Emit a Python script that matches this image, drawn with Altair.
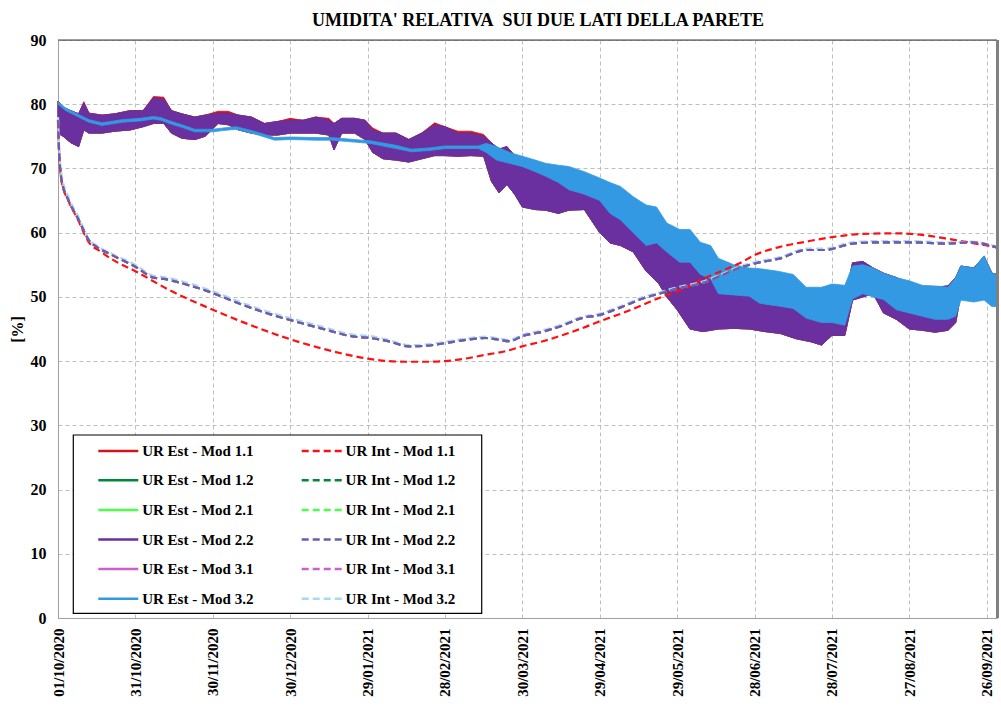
import altair as alt
import pandas as pd

SERIF = "Liberation Serif"
START = pd.Timestamp("2020-10-01", tz="UTC")

# ---- series names / styles (legend fills column by column) ----
SERIES = [
    "UR Est - Mod 1.1", "UR Est - Mod 1.2", "UR Est - Mod 2.1",
    "UR Est - Mod 2.2", "UR Est - Mod 3.1", "UR Est - Mod 3.2",
    "UR Int - Mod 1.1", "UR Int - Mod 1.2", "UR Int - Mod 2.1",
    "UR Int - Mod 2.2", "UR Int - Mod 3.1", "UR Int - Mod 3.2",
]
COLORS = [
    "#D0141A", "#00883A", "#4DFF4D", "#6A30A0", "#CC5FCC", "#3399E3",
    "#FF1010", "#00883A", "#4DFF4D", "#6E5AAE", "#CC5FCC", "#A9D9F2",
]
SOLID = [1, 0]
DASH = [7, 4]
DASHES = [SOLID] * 6 + [DASH] * 6

# ---- outdoor-side RH (daily swing shown as low / high envelope), day offset from 01/10/2020 ----
EST_DAYS = [0, 2, 5, 8, 10, 12, 17, 22, 28, 33, 37, 41, 44, 48, 53, 57, 62, 66, 70, 75,
            80, 85, 90, 95, 100, 105, 107, 110, 115, 119, 122, 126, 131, 136, 141, 146, 150, 155, 160, 165,
            168, 171, 174, 177, 180, 185, 189, 194, 198, 204, 210, 214, 218, 223, 228, 233, 236, 240, 245, 250,
            256, 262, 268, 274, 280, 286, 292, 296, 300, 305, 308, 312, 316, 320, 325, 330, 335, 340, 345, 348,
            350, 355, 359, 362, 364]
EST22_LO = [75.5, 75, 74, 73.4, 76, 75.5, 75.5, 75.8, 76, 76.5, 77, 77, 75.5, 74.7, 74.5, 75, 77, 76.8, 76, 75.5,
            75.2, 75.2, 75.5, 75.5, 75.5, 75.2, 72.9, 75.5, 75.5, 74.5, 72.5, 71.5, 71.3, 71, 71.5, 72, 72, 71.9, 72, 71.9,
            68, 66.2, 67.5, 66, 64, 63.6, 63.5, 63, 63.5, 63.6, 60, 58.4, 58, 57, 54, 52, 50, 48, 45, 44.6,
            45, 45.1, 45, 44.6, 44.3, 43.5, 43, 42.5, 44, 44, 49.5, 50, 50.5, 47.5, 46.5, 45, 44.8, 44.5, 44.8, 46,
            50.5, 50, 50.3, 49, 48.5]
EST22_HI = [80.5, 79.5, 79, 78.5, 80.2, 78.6, 78.3, 78.5, 79, 79, 81, 80.8, 79, 78.5, 78, 78.3, 78.6, 78.6, 78.3, 78,
            77, 77.3, 77.5, 77.5, 78, 77.5, 77, 77.8, 77.8, 77.5, 76, 75.5, 75.5, 74.5, 75.5, 76.8, 76.5, 75.5, 75.5, 75,
            74, 73, 73.4, 72, 71.3, 71, 70.5, 70.3, 69.8, 69.3, 67.5, 66.5, 65.6, 64.5, 62.5, 61, 59.5, 58.5, 56.5, 55.3,
            53.5, 52.2, 51.5, 50.5, 50, 49.6, 49, 48.5, 49.6, 49.6, 55.3, 55.5, 54.5, 53.7, 53, 52, 51.5, 51.5, 51.7, 53,
            54.8, 54.5, 56.3, 53.7, 53.5]
EST11_LO = EST22_LO
EST11_HI = [80.5, 79.5, 79, 78.5, 80.4, 78.6, 78.3, 78.5, 79, 79, 81.2, 81.1, 79, 78.5, 78, 78.3, 78.9, 78.9, 78.3, 78,
            77, 77.3, 77.8, 77.5, 78, 77.8, 77, 77.8, 77.8, 77.5, 76.3, 75.5, 75.5, 74.5, 75.5, 77.1, 76.5, 75.8, 75.8, 75.3,
            74, 73, 73.4, 72, 71.3, 71, 70.5, 70.3, 69.8, 69.3, 67.5, 66.5, 65.6, 64.5, 62.5, 61, 59.5, 58.5, 56.5, 55.3,
            53.5, 52.2, 51.5, 50.5, 50, 49.6, 49, 48.5, 49.6, 49.6, 55.3, 55.5, 54.5, 53.7, 53, 52, 51.5, 51.5, 51.7, 53,
            54.8, 54.5, 56.3, 53.7, 53.5]

EST32_DAYS = [0, 3, 7, 12, 17, 25, 32, 37, 40, 44, 48, 53, 60, 64, 69, 76, 84, 90, 100, 106,
              115, 121, 131, 137, 144, 150, 157, 163, 166, 170, 175, 180, 185, 189, 194, 198, 204, 210, 214, 218,
              223, 228, 232, 236, 241, 245, 249, 253, 256, 262, 268, 272, 279, 285, 290, 296, 300, 305, 308, 312,
              316, 320, 325, 330, 335, 340, 345, 348, 350, 355, 359, 362, 364]
EST32_LO = [80.0, 79.0, 78.2, 77.2, 76.7, 77.2, 77.4, 77.7, 77.5, 76.9, 76.4, 75.7, 75.7, 75.9, 76.1, 75.4, 74.4, 74.5, 74.4, 74.4,
            74.1, 73.9, 73.1, 72.6, 72.8, 73.1, 73.1, 73.1, 72.5, 71.3, 70.8, 70.3, 69.5, 68.8, 67.8, 66.7, 66, 65, 63, 62,
            60, 58, 58.4, 57, 55.4, 55.4, 53.5, 52.8, 50.5, 50.3, 50.1, 49, 48.6, 48.2, 46.7, 46, 46, 45.6, 49.7, 50.5,
            50, 49.6, 48, 47.5, 47, 46.5, 46.5, 47, 49.5, 49.2, 49.5, 48.5, 48.5]
EST32_HI = [80.4, 79.4, 78.6, 77.6, 77.1, 77.6, 77.8, 78.1, 77.9, 77.3, 76.8, 76.1, 76.1, 76.3, 76.5, 75.8, 74.8, 74.9, 74.8, 74.8,
            74.5, 74.3, 73.6, 73, 73.2, 73.5, 73.5, 73.5, 73.9, 73.4, 72.5, 71.9, 71.3, 70.8, 70.5, 70.3, 69.5, 68.5, 67.8, 67.2,
            65.6, 64.3, 64, 61.5, 60.5, 60.5, 58.5, 58, 56, 55, 54.5, 54.4, 54, 53.5, 51.5, 51.5, 52, 51.8, 54.8, 55,
            54.5, 53.7, 53, 52.5, 51.8, 51.7, 51.5, 53, 54.8, 54.5, 56.4, 53.7, 53.5]

# ---- indoor-side RH ----
INT11_DAYS = [0, 0.5, 1.4, 4, 8, 10, 12, 16, 22, 30, 43, 60, 76, 90, 102, 112, 120, 128, 136, 143,
              150, 158, 166, 174, 180, 188, 196, 203, 210, 219, 227, 234, 240, 250, 257, 264, 270, 280, 290, 300,
              312, 325, 334, 344, 353, 364]
INT11 = [77, 72, 68, 65, 61.8, 60, 58.5, 57.2, 55.6, 54, 51.1, 48, 45.4, 43.4, 42, 41, 40.4, 40, 39.9, 39.9,
         40, 40.4, 41, 41.6, 42.3, 43.1, 44.1, 45.1, 46.2, 47.5, 48.8, 50, 50.8, 52.8, 54, 55.2, 56.5, 57.8, 58.6, 59.3,
         59.8, 59.9, 59.7, 59.1, 58.5, 57.7]

INT22_DAYS = [0, 0.5, 1.4, 4, 8, 10, 12, 15, 21, 30, 37, 41, 50, 60, 70, 83, 90, 102, 115, 121,
              128, 136, 143, 150, 158, 166, 170, 175, 180, 188, 196, 203, 210, 219, 227, 234, 240, 250, 257, 264,
              270, 280, 290, 297, 308, 318, 331, 344, 354, 364]
INT22 = [77.5, 72, 68.2, 65.1, 62, 60.3, 58.8, 57.8, 56.5, 54.7, 53, 52.8, 51.9, 50.6, 49, 47.2, 46.4, 45.1, 43.8, 43.6,
         43.1, 42.3, 42.4, 42.8, 43.3, 43.6, 43.4, 43.1, 43.9, 44.6, 45.6, 46.7, 47.2, 48.5, 49.8, 50.6, 51.3, 52.2, 53.3, 54.5,
         55.2, 56, 57.3, 57.3, 58.3, 58.5, 58.5, 58.3, 58.5, 57.7]
INT32 = [78, 73, 69, 65.6, 62.4, 60.6, 59, 58, 56.7, 55, 53.3, 53.1, 52.2, 50.9, 49.3, 47.5, 46.7, 45.4, 44.1, 43.9,
         43.3, 42.5, 42.6, 43, 43.5, 43.8, 43.6, 43.3, 44.1, 44.8, 45.8, 46.9, 47.4, 48.7, 50, 50.8, 51.5, 52.4, 53.5, 54.7,
         55.4, 56.2, 57.5, 57.5, 58.5, 58.7, 58.7, 58.5, 58.6, 57.8]

TITLE = "UMIDITA' RELATIVA\u00a0 SUI DUE LATI DELLA PARETE"
TICK_DAYS = list(range(0, 361, 30))
END_DAY = 364


def to_ms(days):
    return [int((START + pd.Timedelta(days=d)).timestamp() * 1000) for d in days]


X = alt.X(
    "t:T",
    scale=alt.Scale(type="utc", domain=to_ms([0, END_DAY])),
    axis=alt.Axis(
        values=to_ms(TICK_DAYS), labelExpr="utcFormat(datum.value, '%d/%m/%Y')", title=None,
        labelAngle=270, labelAlign="right", labelBaseline="middle", labelPadding=10,
        labelFontSize=15, ticks=False, domainColor="#A0A0A0",
    ),
)
Y_AXIS = alt.Axis(
    values=list(range(0, 91, 10)), title="[%]", titleFont=SERIF, titleFontSize=16,
    titleFontWeight="bold", titleColor="black", titleX=-41, titleY=289, titleAngle=270,
    titleAlign="center", titleBaseline="middle", labelFontSize=16, labelPadding=12,
    ticks=False, domainColor="#A0A0A0",
)
Y_SCALE = alt.Scale(domain=[0, 90], nice=False)

LEG = alt.Legend(
    title=None, orient="none", legendX=40.3, legendY=403.2, columns=2,
    symbolType="M-4,0H4", symbolSize=100, symbolStrokeWidth=2.5,
    symbolOffset=12.5, labelOffset=16.4, columnPadding=42.4, rowPadding=13.6,
    labelFont=SERIF, labelFontSize=15, labelFontWeight="bold", labelColor="black",
    padding=0, labelLimit=300,
)


def band(days, lo, hi, color):
    df = pd.DataFrame({"t": to_ms(days), "lo": lo, "hi": hi})
    return alt.Chart(df).mark_area(fill=color, stroke=color, strokeWidth=0.8).encode(
        x=X, y=alt.Y("lo:Q", scale=Y_SCALE, axis=Y_AXIS), y2="hi:Q"
    )


def dashed(days, vals, name):
    df = pd.DataFrame({"t": to_ms(days), "v": vals, "serie": name})
    return alt.Chart(df).mark_line(strokeWidth=2.2, interpolate="monotone").encode(
        x=X,
        y=alt.Y("v:Q", scale=Y_SCALE, axis=Y_AXIS),
        color=alt.Color("serie:N", scale=alt.Scale(domain=SERIES, range=COLORS), legend=LEG),
        strokeDash=alt.StrokeDash("serie:N", scale=alt.Scale(domain=SERIES, range=DASHES), legend=LEG),
    )


one = pd.DataFrame({"k": [0]})
legend_box = alt.Chart(one).mark_rect(fill="white", stroke="black", strokeWidth=1.2).encode(
    x=alt.value(15.3), x2=alt.value(423.7), y=alt.value(395), y2=alt.value(573.3)
)
top_line = alt.Chart(one).mark_rule(color="#404040", strokeWidth=1.2).encode(
    x=alt.value(0), x2=alt.value(939), y=alt.value(0)
)
right_line = alt.Chart(one).mark_rule(color="#808080", strokeWidth=3).encode(
    x=alt.value(939.5), y=alt.value(0), y2=alt.value(578)
)
title_text = alt.Chart(one).mark_text(
    text=TITLE, font=SERIF, fontSize=18, fontWeight="bold", color="black",
    align="center", baseline="alphabetic",
).encode(x=alt.value(480), y=alt.value(-14.5))

layers = [
    band(EST_DAYS, EST22_LO, EST22_HI, COLORS[1]),   # Est 1.2
    band(EST_DAYS, EST22_LO, EST22_HI, COLORS[2]),   # Est 2.1
    band(EST_DAYS, EST22_LO, EST22_HI, COLORS[4]),   # Est 3.1
    band(EST_DAYS, EST11_LO, EST11_HI, COLORS[0]),   # Est 1.1
    band(EST_DAYS, EST22_LO, EST22_HI, COLORS[3]),   # Est 2.2
    band(EST32_DAYS, EST32_LO, EST32_HI, COLORS[5]),  # Est 3.2
    dashed(INT22_DAYS, INT22, SERIES[7]),
    dashed(INT22_DAYS, INT22, SERIES[8]),
    dashed(INT11_DAYS, INT11, SERIES[6]),
    dashed(INT22_DAYS, INT32, SERIES[11]),
    dashed(INT22_DAYS, INT22, SERIES[10]),
    dashed(INT22_DAYS, INT22, SERIES[9]),
    legend_box,
    top_line,
    right_line,
    title_text,
]

chart = alt.layer(*layers).properties(
    width=939,
    height=578,
    padding={"left": 58, "top": 40, "right": 4, "bottom": 89},
    autosize=alt.AutoSizeParams(type="none"),
    background="white",
).configure_view(
    stroke="#A0A0A0", strokeWidth=1
).configure_axis(
    labelFont=SERIF, labelFontWeight="bold", labelColor="black",
    gridColor="#BFBFBF", gridDash=[4, 3], gridWidth=1,
)

chart.save("out.html", embed_options={"renderer": "svg", "actions": False})
